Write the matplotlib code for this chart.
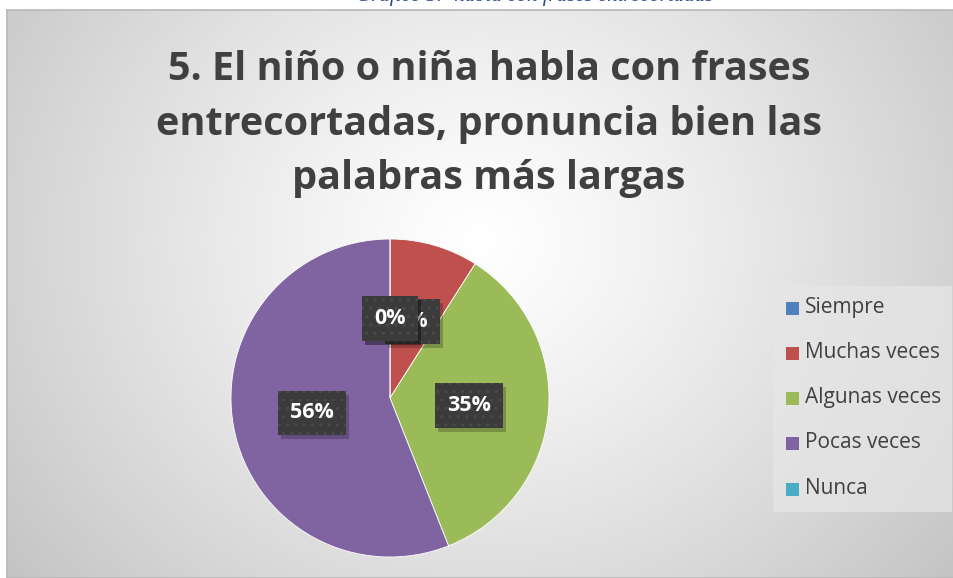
import numpy as np
import matplotlib
matplotlib.use("Agg")
import matplotlib.pyplot as plt
from matplotlib import transforms
from matplotlib.patches import Rectangle

categories = ["Siempre", "Muchas veces", "Algunas veces", "Pocas veces", "Nunca"]
values = [0, 9, 35, 56, 0]
colors = ["#4F81BD", "#C0504D", "#9BBB59", "#8064A2", "#4BACC6"]
title = "5. El niño o niña habla con frases\nentrecortadas, pronuncia bien las\npalabras más largas"
caption = "Gráfico 5.- habla con frases entrecortadas"

W, H = 954, 578
fig = plt.figure(figsize=(W / 100, H / 100), dpi=100)
fig.patch.set_facecolor("white")

def fx(px):
    return px / W

def fy(py):
    return 1 - py / H

# background radial gradient (chart area)
x0, y0, x1, y1 = 7, 10, 954, 578
bg = fig.add_axes([fx(x0), fy(y1), fx(x1 - x0), (y1 - y0) / H])
yy, xx = np.mgrid[y0:y1, x0:x1]
d = np.sqrt(((xx - 480) / 1.0) ** 2 + ((yy - 240) / 0.9) ** 2)
t = np.clip(d / 620, 0, 1)
shade = 1.0 - 0.24 * t ** 1.2
bg.imshow(np.dstack([shade] * 3), extent=[0, 1, 0, 1], aspect="auto", origin="upper")
bg.set_xlim(0, 1)
bg.set_ylim(0, 1)
bg.set_xticks([])
bg.set_yticks([])
for s in bg.spines.values():
    s.set_color("#b8b8b8")
    s.set_linewidth(1.2)

# legend background box
bg.add_patch(Rectangle(((773 - x0) / (x1 - x0), 1 - (512 - y0) / (y1 - y0)),
                       (952 - 773) / (x1 - x0), (512 - 286) / (y1 - y0),
                       transform=bg.transAxes, facecolor="#e6e6e6", alpha=0.75,
                       edgecolor="none", zorder=3))

# caption (partly cut off at top, as in the reference)
fig.text(fx(535), fy(-4), caption, ha="center", va="center", fontsize=15,
         family="Liberation Serif", style="italic", color="#2a4a8a")

# title
fig.text(fx(489), fy(124), title, ha="center", va="center", fontsize=28.5,
         fontweight="bold", family="Open Sans", color="#404040", linespacing=1.5)

# pie
cx, cy, r = 390, 398, 159
ax = fig.add_axes([fx(cx - r), fy(cy + r), fx(2 * r), 2 * r / H])
wedges, _ = ax.pie(values, colors=colors, startangle=90, counterclock=False,
                   radius=1.0, wedgeprops=dict(linewidth=0.6, edgecolor="white"))
ax.set_xlim(-1, 1)
ax.set_ylim(-1, 1)
ax.set_aspect("equal")
ax.axis("off")

total = sum(values)
order = [1, 2, 3, 4, 0]  # draw 0% (Siempre) last so it sits on top
for k, i in enumerate(order):
    w = wedges[i]
    ang = np.deg2rad((w.theta1 + w.theta2) / 2)
    lx, ly = 0.5 * np.cos(ang), 0.5 * np.sin(ang)
    lab = f"{values[i] / total * 100:.0f}%"
    shadow_tr = ax.transData + transforms.ScaledTranslation(3 / 100, -4 / 100, fig.dpi_scale_trans)
    ax.text(lx, ly, lab, transform=shadow_tr, ha="center", va="center", fontsize=15.5,
            fontweight="bold", family="Open Sans", color=(0, 0, 0, 0),
            bbox=dict(boxstyle="square,pad=0.55", facecolor="black", alpha=0.22,
                      edgecolor="none"), zorder=5 + 2 * k)
    ax.text(lx, ly, lab, ha="center", va="center", fontsize=15.5, fontweight="bold",
            family="Open Sans", color="white",
            bbox=dict(boxstyle="square,pad=0.55", facecolor="#3b3b3b",
                      edgecolor="#4a4a4a", linewidth=0, hatch=".."), zorder=6 + 2 * k)

# legend
leg_y = [308, 353, 398, 443, 489]
for name, col, py in zip(categories, colors, leg_y):
    fig.patches.append(Rectangle((fx(786), fy(py + 7)), fx(13), 13 / H,
                                 transform=fig.transFigure, facecolor=col,
                                 edgecolor="none", zorder=10))
    fig.text(fx(805), fy(py), name, ha="left", va="center", fontsize=15,
             family="Open Sans", color="#404040", zorder=10)

fig.savefig("out.png", dpi=100)
